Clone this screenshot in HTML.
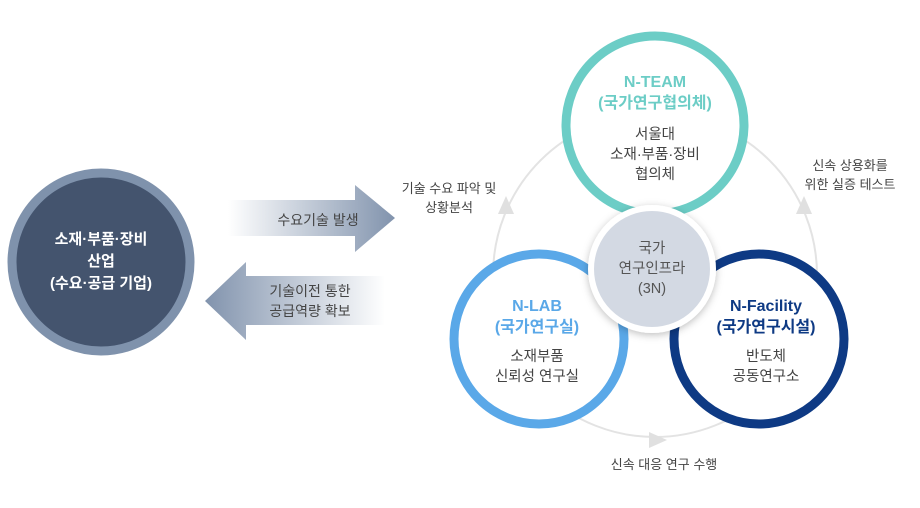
<!DOCTYPE html>
<html><head><meta charset="utf-8"><style>
body{margin:0;width:920px;height:503px;background:#fff;overflow:hidden}
svg text{font-family:"Liberation Sans","Noto Sans CJK KR",sans-serif;text-anchor:middle}
</style></head><body>
<svg width="920" height="503" viewBox="0 0 920 503">
<defs>
<linearGradient id="gr" x1="0" x2="1"><stop offset="0" stop-color="#fff"/><stop offset="1" stop-color="#8193ad"/></linearGradient>
<linearGradient id="gl" x1="1" x2="0"><stop offset="0" stop-color="#fff"/><stop offset="1" stop-color="#8193ad"/></linearGradient>
<filter id="sh" x="-30%" y="-30%" width="160%" height="160%"><feDropShadow dx="0" dy="2" stdDeviation="4" flood-color="#000" flood-opacity="0.25"/></filter>
</defs>
<circle cx="101" cy="262" r="89" fill="#44546e" stroke="#7f92ac" stroke-width="9"/>
<g fill="#fff" font-size="15" font-weight="bold">
<text x="101" y="244">소재·부품·장비</text>
<text x="101" y="266">산업</text>
<text x="101" y="288">(수요·공급 기업)</text>
</g>
<polygon points="228,200 355,200 355,185 395,218 355,252 355,236 228,236" fill="url(#gr)"/>
<text x="318" y="225" font-size="14" fill="#444">수요기술 발생</text>
<polygon points="385,276 246,276 246,262 205,301 246,340 246,325 385,325" fill="url(#gl)"/>
<text x="310" y="296" font-size="14" fill="#444">기술이전 통한</text>
<text x="310" y="316" font-size="14" fill="#444">공급역량 확보</text>
<circle cx="655" cy="275" r="162" fill="none" stroke="#e3e3e3" stroke-width="2"/>
<polygon points="506,196 498,214 514,214" fill="#e0e0e0"/>
<polygon points="804,196 796,214 812,214" fill="#e0e0e0"/>
<polygon points="667,440 649,432 649,448" fill="#e0e0e0"/>
<g font-size="13" fill="#444">
<text x="449" y="193">기술 수요 파악 및</text>
<text x="449" y="212">상황분석</text>
<text x="850" y="170">신속 상용화를</text>
<text x="850" y="189">위한 실증 테스트</text>
<text x="664" y="469">신속 대응 연구 수행</text>
</g>
<circle cx="655" cy="125" r="89" fill="#fff" stroke="#6ccdc6" stroke-width="9"/>
<circle cx="539" cy="339" r="85" fill="#fff" stroke="#5aa8e8" stroke-width="9"/>
<circle cx="759" cy="339" r="85" fill="#fff" stroke="#0e3a84" stroke-width="9"/>
<circle cx="652" cy="269" r="61" fill="#d3d9e3" stroke="#fff" stroke-width="6" filter="url(#sh)"/>
<g font-size="16" font-weight="bold" fill="#6ccdc6">
<text x="655" y="87">N-TEAM</text>
<text x="655" y="108">(국가연구협의체)</text>
</g>
<g font-size="14.5" fill="#444">
<text x="655" y="139">서울대</text>
<text x="655" y="159">소재·부품·장비</text>
<text x="655" y="179">협의체</text>
</g>
<g font-size="14.5" fill="#555">
<text x="652" y="253">국가</text>
<text x="652" y="273">연구인프라</text>
<text x="652" y="293">(3N)</text>
</g>
<g font-size="16" font-weight="bold" fill="#5aa8e8">
<text x="537" y="311">N-LAB</text>
<text x="537" y="332">(국가연구실)</text>
</g>
<g font-size="14.5" fill="#444">
<text x="537" y="361">소재부품</text>
<text x="537" y="381">신뢰성 연구실</text>
</g>
<g font-size="16" font-weight="bold" fill="#0e3a84">
<text x="766" y="311">N-Facility</text>
<text x="766" y="332">(국가연구시설)</text>
</g>
<g font-size="14.5" fill="#444">
<text x="766" y="361">반도체</text>
<text x="766" y="381">공동연구소</text>
</g>
</svg>
</body></html>
